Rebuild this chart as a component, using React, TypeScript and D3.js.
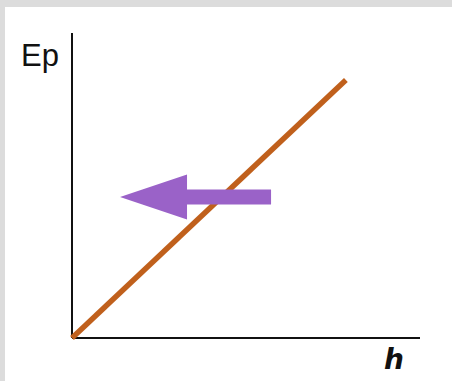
import React from "react";
import * as d3 from "d3";

const hValues = [0, 7.87];
const epValues = [0, 8.46];
const arrowFromH = 5.72;
const arrowToH = 1.38;
const arrowEp = 4.62;
const xLabel = "h";
const yLabel = "Ep";

const W = 452;
const H = 381;

export default function App() {
  const x = d3.scaleLinear().domain([0, 10]).range([72, 420]);
  const y = d3.scaleLinear().domain([0, 10]).range([338, 33]);
  const pts: [number, number][] = hValues.map((h, i) => [h, epValues[i]]);
  const line = d3
    .line<[number, number]>()
    .x((d) => x(d[0]))
    .y((d) => y(d[1]));

  const ax0 = x(arrowFromH);
  const ax1 = x(arrowToH);
  const ay = y(arrowEp);
  const headLen = 67;
  const headHalf = 22.5;
  const shaftHalf = 7.5;
  const arrowPath = [
    `M${ax0},${ay - shaftHalf}`,
    `L${ax1 + headLen},${ay - shaftHalf}`,
    `L${ax1 + headLen},${ay - headHalf}`,
    `L${ax1},${ay}`,
    `L${ax1 + headLen},${ay + headHalf}`,
    `L${ax1 + headLen},${ay + shaftHalf}`,
    `L${ax0},${ay + shaftHalf}`,
    "Z",
  ].join(" ");

  return (
    <div style={{ position: "fixed", left: 0, top: 0, width: W, height: H }}>
      <svg width={W} height={H} style={{ display: "block" }}>
        <rect x={0} y={0} width={W} height={H} fill="#dcdcdc" />
        <rect x={5} y={7} width={W - 5} height={H - 7} fill="#ffffff" />
        <line x1={x(0)} y1={y(0)} x2={x(0)} y2={33} stroke="#111" strokeWidth={2} />
        <line x1={x(0)} y1={y(0)} x2={420} y2={y(0)} stroke="#111" strokeWidth={2} />
        <path d={line(pts) || ""} stroke="#c0601c" strokeWidth={5.5} fill="none" />
        <path d={arrowPath} fill="#9a62c8" />
        <text
          x={21}
          y={66}
          fontFamily="Liberation Sans, Arial, sans-serif"
          fontSize={31}
          fill="#111"
        >
          {yLabel}
        </text>
        <text
          x={384}
          y={369}
          fontFamily="DejaVu Sans, sans-serif"
          fontSize={28}
          fontWeight="bold"
          fontStyle="italic"
          fill="#111"
        >
          {xLabel}
        </text>
      </svg>
    </div>
  );
}
